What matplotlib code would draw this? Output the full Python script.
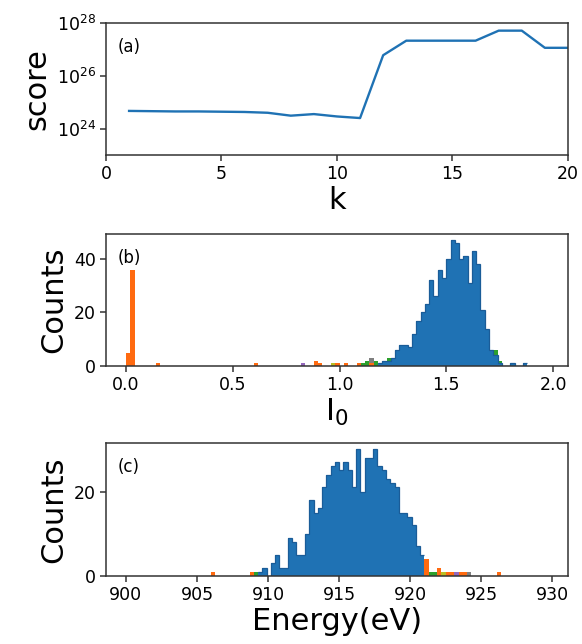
import numpy as np
import matplotlib
matplotlib.use("Agg")
import matplotlib.pyplot as plt

# ---------------- data ----------------
# (a) score vs k (log10 of score)
k_values = [1, 2, 3, 4, 5, 6, 7, 8, 9, 10, 11, 12, 13, 14, 15, 16, 17, 18, 19, 20]
log_score = [24.67, 24.66, 24.65, 24.65, 24.64, 24.63, 24.60, 24.49, 24.55, 24.46,
             24.40, 26.78, 27.33, 27.33, 27.33, 27.33, 27.71, 27.71, 27.06, 27.06]

# (b) I0 histogram, bin width 0.02
b_width = 0.02
b_blue_start = 1.18
b_blue_counts = [1, 2, 2, 3, 6, 8, 8, 7, 12, 17, 20, 23, 32, 26, 36, 33, 40, 47, 46,
                 40, 41, 31, 43, 38, 21, 14, 6, 4, 1, 0, 0, 1, 0, 0, 1]
b_orange_x = [0.00, 0.02, 0.14, 0.60, 0.88, 0.90, 0.98, 1.02, 1.08, 1.14]
b_orange_n = [5, 36, 1, 1, 2, 1, 1, 1, 1, 1]
b_green_x = [1.10, 1.12, 1.16, 1.20, 1.22, 1.72, 1.74]
b_green_n = [1, 2, 2, 2, 3, 6, 2]
b_gray_x = [1.14]
b_gray_n = [3]
b_purple_x = [0.82]
b_purple_n = [1]
b_olive_x = [0.96]
b_olive_n = [1]

# (c) energy histogram, bin width 0.3 eV
c_width = 0.3
c_blue_start = 909.3
c_blue_counts = [1, 2, 0, 3, 5, 2, 2, 9, 8, 5, 5, 10, 18, 15, 16, 21, 24, 26, 27, 25,
                 27, 25, 21, 30, 20, 28, 28, 30, 26, 25, 23, 22, 21, 15, 15, 14, 12,
                 7, 5]
c_orange_x = [906.0, 908.7, 921.0, 921.9, 922.5, 922.8, 923.4, 923.7, 926.1]
c_orange_n = [1, 1, 4, 2, 1, 1, 1, 1, 1]
c_green_x = [909.0, 921.3, 921.6]
c_green_n = [1, 1, 1]
c_olive_x = [922.2]
c_olive_n = [1]
c_purple_x = [923.1]
c_purple_n = [1]
c_gray_x = [924.0]
c_gray_n = [1]

BLUE = "#1f72b4"
BLUE_EDGE = "#1a5c98"
ORANGE = "#ff6a10"
GREEN = "#2ca02c"
GRAY = "#7f7f7f"
PURPLE = "#9467bd"
OLIVE = "#bcbd22"

plt.rcParams['font.family'] = ['DejaVu Sans']

fig = plt.figure(figsize=(5.82, 6.44), dpi=100)
L, W = 0.1821, 0.7938
axa = fig.add_axes([L, 0.7593, W, 0.205])
axb = fig.add_axes([L, 0.4317, W, 0.205])
axc = fig.add_axes([L, 0.1056, W, 0.2065])

TICK_FS = 12.5
LAB_FS = 22

# ---- (a)
axa.plot(k_values, 10.0 ** np.array(log_score), color=BLUE, lw=1.7)
axa.set_yscale('log')
axa.set_ylim(1e23, 1e28)
axa.set_xlim(0, 20)
axa.set_yticks([1e24, 1e26, 1e28])
axa.yaxis.set_minor_locator(matplotlib.ticker.NullLocator())
axa.set_xticks([0, 5, 10, 15, 20])
axa.set_xlabel('k', fontsize=LAB_FS, labelpad=2)
axa.set_ylabel('score', fontsize=LAB_FS, labelpad=4)
axa.text(0.026, 0.78, '(a)', transform=axa.transAxes, fontsize=12)


def draw_bars(ax, xs, ns, width, color):
    for x, n in zip(xs, ns):
        ax.stairs([n], [x, x + width], fill=True, color=color, lw=0)


def draw_run(ax, start, counts, width, color):
    edges = start + width * np.arange(len(counts) + 1)
    ax.stairs(counts, edges, fill=True, color=color, lw=0)
    ax.stairs(counts, edges, fill=False, color=BLUE_EDGE, lw=0.9, baseline=None)


# ---- (b)
draw_bars(axb, b_green_x, b_green_n, b_width, GREEN)
draw_bars(axb, b_gray_x, b_gray_n, b_width, GRAY)
draw_run(axb, b_blue_start, b_blue_counts, b_width, BLUE)
draw_bars(axb, b_olive_x, b_olive_n, b_width, OLIVE)
draw_bars(axb, b_purple_x, b_purple_n, b_width, PURPLE)
draw_bars(axb, b_orange_x, b_orange_n, b_width, ORANGE)
axb.set_xlim(-0.094, 2.07)
axb.set_ylim(0, 49.35)
axb.set_xticks([0.0, 0.5, 1.0, 1.5, 2.0])
axb.set_yticks([0, 20, 40])
axb.set_xlabel('I$_0$', fontsize=LAB_FS, labelpad=2)
axb.set_ylabel('Counts', fontsize=LAB_FS, labelpad=4)
axb.text(0.026, 0.78, '(b)', transform=axb.transAxes, fontsize=12)

# ---- (c)
draw_bars(axc, c_green_x, c_green_n, c_width, GREEN)
draw_bars(axc, c_gray_x, c_gray_n, c_width, GRAY)
draw_run(axc, c_blue_start, c_blue_counts, c_width, BLUE)
draw_bars(axc, c_olive_x, c_olive_n, c_width, OLIVE)
draw_bars(axc, c_purple_x, c_purple_n, c_width, PURPLE)
draw_bars(axc, c_orange_x, c_orange_n, c_width, ORANGE)
axc.set_xlim(898.6, 931.1)
axc.set_ylim(0, 31.5)
axc.set_xticks([900, 905, 910, 915, 920, 925, 930])
axc.set_yticks([0, 20])
axc.set_xlabel('Energy(eV)', fontsize=LAB_FS, labelpad=2)
axc.set_ylabel('Counts', fontsize=LAB_FS, labelpad=4)
axc.text(0.026, 0.78, '(c)', transform=axc.transAxes, fontsize=12)

for ax in (axa, axb, axc):
    ax.tick_params(labelsize=TICK_FS, length=4, width=1.1, color='#333333')
    for s in ax.spines.values():
        s.set_linewidth(1.1)
        s.set_color('#333333')
        s.set_zorder(5)

fig.savefig('out.png', dpi=100)
